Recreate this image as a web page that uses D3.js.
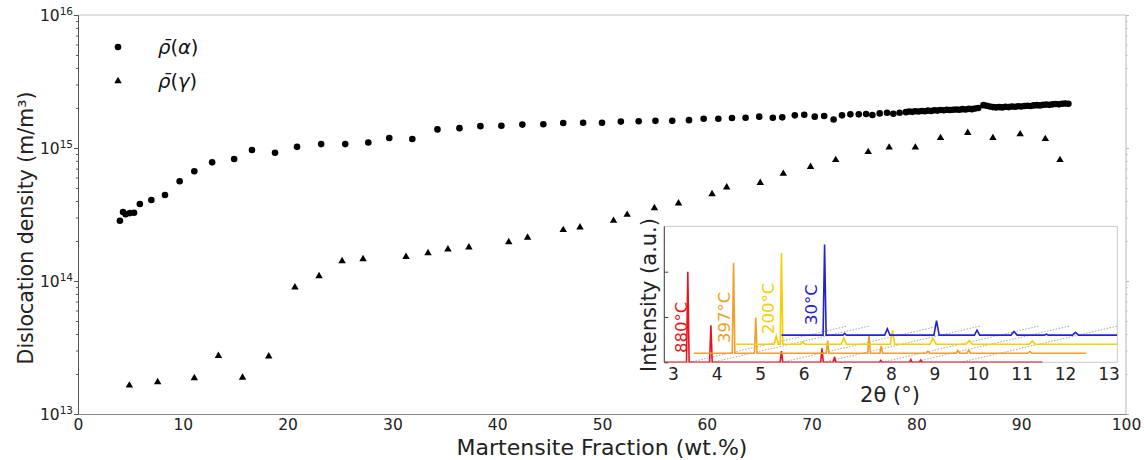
<!DOCTYPE html>
<html>
  <head>
    <script src="https://cdn.jsdelivr.net/npm/d3@7"></script>
    <style>
      body { margin: 0; background: #fff; }
      text { font-family: "DejaVu Sans", sans-serif; }
    </style>
  </head>
  <body>
    <svg width="1144" height="460"></svg>
    <script>

      // main chart data: martensite fraction (wt.%) vs dislocation density (m/m^3)
      const alphaFrac = [4.0, 4.3, 4.55, 4.95, 5.35, 5.9, 7.0, 8.3, 9.7, 11.1, 12.8, 14.9, 16.6, 18.8, 20.9,
        23.2, 25.5, 27.7, 29.7, 31.9, 34.3, 36.4, 38.4, 40.4, 42.4, 44.4, 46.3, 48.2, 50.0, 51.8, 53.5,
        55.1, 56.7, 58.3, 59.7, 61.1, 62.4, 63.7, 65.0, 66.3, 67.2, 68.4, 69.3, 70.3, 71.2, 72.1, 72.9,
        73.7, 74.5, 75.2, 75.8, 76.5, 77.2, 77.8, 78.4,
        79.0, 79.3, 79.6, 79.9, 80.2, 80.5, 80.8, 81.1, 81.4, 81.7, 82.0, 82.3, 82.6, 82.9, 83.2, 83.5,
        83.8, 84.1, 84.4, 84.7, 85.0, 85.3, 85.6, 85.9,
        86.4, 86.7, 87.0, 87.3, 87.6, 87.9, 88.2, 88.5, 88.8, 89.1, 89.4, 89.7, 90.0, 90.3, 90.6, 90.9,
        91.2, 91.5, 91.8, 92.1, 92.4, 92.7, 93.0, 93.3, 93.6, 93.9, 94.2, 94.5];
      const alphaRho = [2.84e14, 3.30e14, 3.18e14, 3.24e14, 3.26e14, 3.79e14, 4.06e14, 4.43e14, 5.62e14, 6.68e14,
        7.80e14, 8.26e14, 9.66e14, 9.22e14, 1.02e15, 1.07e15, 1.07e15, 1.10e15, 1.19e15, 1.17e15, 1.38e15,
        1.41e15, 1.46e15, 1.47e15, 1.50e15, 1.51e15, 1.54e15, 1.55e15, 1.55e15, 1.58e15, 1.59e15, 1.60e15,
        1.60e15, 1.62e15, 1.66e15, 1.66e15, 1.68e15, 1.69e15, 1.72e15, 1.69e15, 1.70e15, 1.76e15, 1.78e15,
        1.72e15, 1.74e15, 1.64e15, 1.76e15, 1.79e15, 1.79e15, 1.80e15, 1.77e15, 1.82e15, 1.84e15, 1.81e15,
        1.84e15,
        1.86e15, 1.88e15, 1.87e15, 1.89e15, 1.88e15, 1.90e15, 1.89e15, 1.91e15, 1.90e15, 1.92e15, 1.91e15,
        1.93e15, 1.92e15, 1.94e15, 1.93e15, 1.94e15, 1.95e15, 1.94e15, 1.96e15, 1.95e15, 1.97e15, 1.96e15,
        1.98e15, 2.00e15,
        2.10e15, 2.08e15, 2.05e15, 2.03e15, 2.02e15, 2.03e15, 2.02e15, 2.04e15, 2.03e15, 2.05e15, 2.04e15,
        2.06e15, 2.05e15, 2.07e15, 2.08e15, 2.07e15, 2.09e15, 2.10e15, 2.09e15, 2.11e15, 2.12e15, 2.11e15,
        2.13e15, 2.14e15, 2.13e15, 2.15e15, 2.16e15, 2.15e15];

      const gammaFrac = [4.9, 7.6, 11.1, 13.4, 15.7, 18.2, 20.7, 23.0, 25.2, 27.2, 31.3, 33.4, 35.3, 37.3, 41.1,
        42.9, 46.3, 47.9, 51.1, 52.4, 55.0, 57.3, 60.5, 61.9, 65.1, 67.3, 69.9, 72.3, 75.4, 77.4, 79.9,
        82.3, 84.9, 87.3, 89.9, 92.3, 93.7];
      const gammaRho = [1.64e13, 1.74e13, 1.86e13, 2.74e13, 1.88e13, 2.71e13, 8.97e13, 1.09e14, 1.41e14, 1.46e14,
        1.52e14, 1.62e14, 1.73e14, 1.79e14, 1.96e14, 2.12e14, 2.42e14, 2.53e14, 2.84e14, 3.15e14, 3.54e14,
        3.84e14, 4.51e14, 5.07e14, 5.48e14, 6.41e14, 7.23e14, 8.13e14, 9.34e14, 1.01e15, 1.01e15, 1.19e15,
        1.30e15, 1.19e15, 1.27e15, 1.17e15, 8.13e14];

      const xTicks = [0, 10, 20, 30, 40, 50, 60, 70, 80, 90, 100];
      const yExponents = [13, 14, 15, 16];

      // inset data: XRD patterns, [position, peak top, half width]
      const insetLabels = ['880°C', '397°C', '200°C', '30°C'];
      const insetBase = [0, 0.2, 0.4, 0.6];
      const insetRange = [[2.8, 11.48], [3.48, 12.49], [4.45, 13.2], [5.49, 13.2]];
      const peaks880 = [[3.34, 2.0, 0.03], [3.87, 0.82, 0.03], [5.49, 0.25, 0.03], [6.42, 0.31, 0.03],
        [6.71, 0.12, 0.03], [7.77, 0.04, 0.03], [8.46, 0.06, 0.03], [8.69, 0.05, 0.03]];
      const peaks397 = [[4.39, 2.2, 0.03], [4.90, 0.99, 0.03], [6.55, 0.48, 0.03], [7.50, 0.60, 0.03],
        [7.78, 0.36, 0.03], [8.85, 0.24, 0.04], [9.54, 0.26, 0.04], [9.79, 0.27, 0.04], [11.19, 0.24, 0.05]];
      const peaks200 = [[5.37, 0.58, 0.05], [5.49, 2.41, 0.03], [5.98, 0.45, 0.05], [6.92, 0.53, 0.06],
        [8.04, 0.71, 0.05], [8.97, 0.53, 0.07], [9.80, 0.48, 0.07], [11.25, 0.47, 0.07]];
      const peaks30 = [[6.48, 2.60, 0.035], [6.94, 0.64, 0.04], [7.92, 0.74, 0.06], [9.05, 0.92, 0.06],
        [9.98, 0.71, 0.06], [10.83, 0.68, 0.07], [11.57, 0.62, 0.05], [12.24, 0.66, 0.07]];
      const insetPeaks = [peaks880, peaks397, peaks200, peaks30];
      const guides = [[3.38, 0, 7.0, 0.8], [3.9, 0, 7.5, 0.8], [5.5, 0, 9.1, 0.8], [6.45, 0, 10.05, 0.8],
        [7.8, 0, 11.4, 0.8], [8.5, 0, 12.1, 0.8], [9.6, 0, 13.2, 0.8]];
      const insetTicks = [3, 4, 5, 6, 7, 8, 9, 10, 11, 12, 13];

      const colors = ['#e8141e', '#f0a028', '#f5cf00', '#2323d6'];

      const svg = d3.select('svg');

      const x = d3.scaleLinear().domain([0, 100]).range([78, 1126]);
      const y = d3.scaleLog().domain([1e13, 1e16]).range([414, 15]);

      // spines
      svg.append('line').attr('x1', 78).attr('x2', 1126).attr('y1', 15).attr('y2', 15).attr('stroke', '#c4c4c4');
      svg.append('line').attr('x1', 1126).attr('x2', 1126).attr('y1', 15).attr('y2', 414).attr('stroke', '#b8b8b8');

      const minors = [];
      yExponents.slice(0, 3).forEach(e => { for (let k = 2; k < 10; k++) minors.push(k * Math.pow(10, e)); });
      const majors = yExponents.map(e => Math.pow(10, e));

      const left = svg.append('g').attr('transform', 'translate(78,0)');
      left.call(d3.axisLeft(y).tickValues(majors).tickFormat('').tickSize(4).tickSizeOuter(0));
      left.append('g').call(d3.axisLeft(y).tickValues(minors).tickFormat('').tickSize(2).tickSizeOuter(0));
      left.selectAll('path, line').attr('stroke', '#555');

      const right = svg.append('g').attr('transform', 'translate(1126,0)');
      right.call(d3.axisRight(y).tickValues(majors).tickFormat('').tickSize(3).tickSizeOuter(0));
      right.append('g').call(d3.axisRight(y).tickValues(minors).tickFormat('').tickSize(1.5).tickSizeOuter(0));
      right.selectAll('path').remove();
      right.selectAll('line').attr('stroke', '#b8b8b8');

      // y tick labels 10^n
      yExponents.forEach(e => {
        const t = svg.append('text')
          .attr('x', 73)
          .attr('y', y(Math.pow(10, e)) + 5.5)
          .attr('text-anchor', 'end')
          .style('font-size', '15.5px')
          .attr('fill', '#222');
        t.append('tspan').text('10');
        t.append('tspan').attr('dy', -6).style('font-size', '10.5px').text(e);
      });

      const bottom = svg.append('g').attr('transform', 'translate(0,414)')
        .call(d3.axisBottom(x).tickValues(xTicks).tickSize(0).tickPadding(5));
      bottom.select('path').attr('stroke', '#888');
      bottom.selectAll('text').style('font-size', '15.5px').style('font-family', 'DejaVu Sans').attr('fill', '#222');

      svg.append('text')
        .attr('x', 602)
        .attr('y', 455)
        .attr('text-anchor', 'middle')
        .style('font-size', '22px')
        .attr('fill', '#222')
        .text('Martensite Fraction (wt.%)');

      svg.append('text')
        .attr('transform', 'translate(33,228) rotate(-90)')
        .attr('text-anchor', 'middle')
        .style('font-size', '20.5px')
        .attr('fill', '#222')
        .text('Dislocation density (m/m³)');

      // points
      svg.append('g').selectAll('circle')
        .data(alphaFrac.map((f, i) => [f, alphaRho[i]]))
        .enter()
        .append('circle')
        .attr('cx', d => x(d[0]))
        .attr('cy', d => y(d[1]))
        .attr('r', 3.3)
        .attr('fill', '#000');

      const tri = d3.symbol().type(d3.symbolTriangle).size(24);
      svg.append('g').selectAll('path')
        .data(gammaFrac.map((f, i) => [f, gammaRho[i]]))
        .enter()
        .append('path')
        .attr('d', tri)
        .attr('transform', d => `translate(${x(d[0])},${y(d[1])})`)
        .attr('fill', '#000');

      // legend
      svg.append('circle').attr('cx', 118).attr('cy', 47).attr('r', 3.3).attr('fill', '#000');
      svg.append('path').attr('d', tri).attr('transform', 'translate(118,81)').attr('fill', '#000');
      [['α', 54], ['γ', 88]].forEach(([g, yy]) => {
        const t = svg.append('text').attr('x', 158).attr('y', yy).style('font-size', '19.5px').attr('fill', '#111');
        t.append('tspan').style('font-style', 'italic').text('ρ\u0304');
        t.append('tspan').text('(');
        t.append('tspan').style('font-style', 'italic').text(g);
        t.append('tspan').text(')');
      });

      // inset
      const ix = d3.scaleLinear().domain([2.8, 13.2]).range([664.3, 1117.3]);
      const iy = d3.scaleLinear().domain([0, 3]).range([362.3, 226.4]);

      svg.append('rect')
        .attr('x', 664.3).attr('y', 226.4)
        .attr('width', 453).attr('height', 135.9)
        .attr('fill', '#fff').attr('stroke', '#c8c8c8');

      svg.append('clipPath').attr('id', 'inclip')
        .append('rect').attr('x', 664.3).attr('y', 226.4).attr('width', 453).attr('height', 136);

      const inset = svg.append('g').attr('clip-path', 'url(#inclip)');

      inset.selectAll('.guide')
        .data(guides)
        .enter()
        .append('line')
        .attr('x1', d => ix(d[0])).attr('y1', d => iy(d[1]))
        .attr('x2', d => ix(d[2])).attr('y2', d => iy(d[3]))
        .attr('stroke', '#a8a8a8')
        .attr('stroke-width', 1)
        .attr('stroke-dasharray', '1.5,1.5');

      const line = d3.line().x(d => ix(d[0])).y(d => iy(d[1]));
      insetPeaks.forEach((pk, i) => {
        const b = insetBase[i];
        const pts = [[insetRange[i][0], b]];
        pk.forEach(p => { pts.push([p[0] - p[2], b], [p[0], p[1]], [p[0] + p[2], b]); });
        pts.push([insetRange[i][1], b]);
        inset.append('path')
          .attr('d', line(pts))
          .attr('fill', 'none')
          .attr('stroke', colors[i])
          .attr('stroke-width', 1.6);
      });

      const insetLeft = svg.append('g').attr('transform', 'translate(664.3,0)')
        .call(d3.axisRight(iy).tickValues([0, 1, 2]).tickFormat('').tickSize(4).tickSizeOuter(0));
      insetLeft.select('path').remove();
      insetLeft.selectAll('line').attr('stroke', '#444');
      svg.append('line').attr('x1', 664.3).attr('x2', 664.3).attr('y1', 226.4).attr('y2', 362.3).attr('stroke', '#444');

      const insetBottom = svg.append('g').attr('transform', 'translate(0,362.3)')
        .call(d3.axisBottom(ix).tickValues(insetTicks).tickSize(0).tickPadding(6));
      insetBottom.select('path').remove();
      insetBottom.selectAll('text').style('font-size', '17px').style('font-family', 'DejaVu Sans').attr('fill', '#222');

      svg.append('text')
        .attr('x', 890).attr('y', 402)
        .attr('text-anchor', 'middle')
        .style('font-size', '21px')
        .attr('fill', '#222')
        .text('2θ (°)');

      svg.append('text')
        .attr('transform', 'translate(656,295) rotate(-90)')
        .attr('text-anchor', 'middle')
        .style('font-size', '21px')
        .attr('fill', '#222')
        .text('Intensity (a.u.)');

      // temperature labels
      const labelPos = [[687, 353], [730, 343], [774, 334], [817, 325]];
      insetLabels.forEach((lab, i) => {
        svg.append('text')
          .attr('transform', `translate(${labelPos[i][0]},${labelPos[i][1]}) rotate(-90)`)
          .style('font-size', '16.5px')
          .attr('fill', colors[i])
          .text(lab);
      });

    </script>
  </body>
</html>
